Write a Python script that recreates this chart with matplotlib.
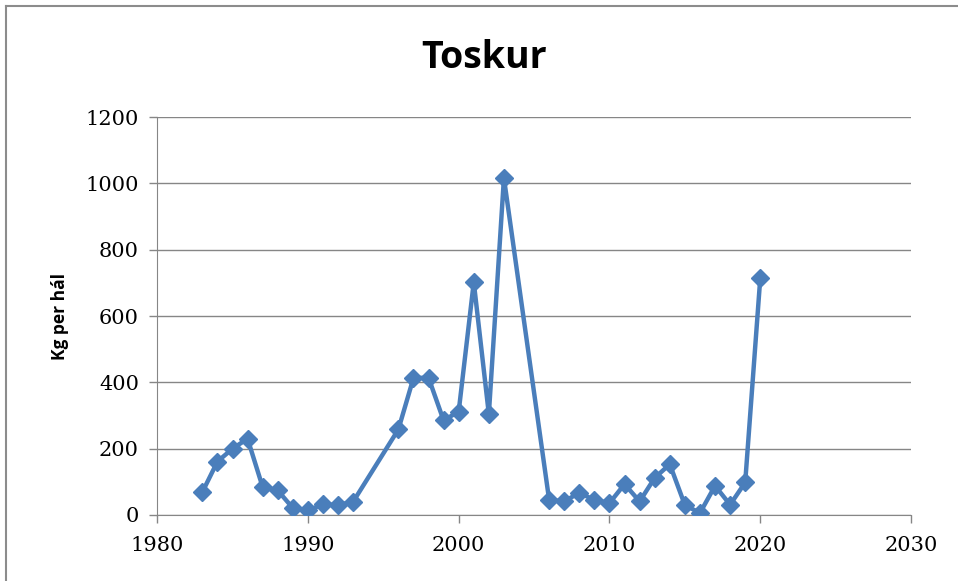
import matplotlib
matplotlib.use("Agg")
import matplotlib.pyplot as plt
from matplotlib.lines import Line2D

# Catch per haul, Toskur
years = [1983, 1984, 1985, 1986, 1987, 1988, 1989, 1990, 1991, 1992, 1993,
         1996, 1997, 1998, 1999, 2000, 2001, 2002, 2003,
         2006, 2007, 2008, 2009, 2010, 2011, 2012, 2013, 2014, 2015,
         2016, 2017, 2018, 2019, 2020]
kg_per_haul = [69, 161, 200, 230, 84, 74, 21, 14, 32, 30, 40,
               258, 413, 414, 285, 312, 702, 304, 1016,
               45, 41, 67, 45, 36, 93, 41, 112, 153, 30,
               6, 88, 31, 98, 714]

x_ticks = [1980, 1990, 2000, 2010, 2020, 2030]
y_ticks = [0, 200, 400, 600, 800, 1000, 1200]

fig = plt.figure(figsize=(9.58, 5.81), dpi=100)
ax = fig.add_axes([0.164, 0.1136, 0.787, 0.685])

ax.plot(years, kg_per_haul, color="#4a7ebb", lw=3.2, marker="D", ms=9.5,
        markeredgecolor="#4a7ebb", zorder=3)

ax.set_xlim(1980, 2030)
ax.set_ylim(0, 1200)
ax.set_xticks(x_ticks)
ax.set_yticks(y_ticks)
ax.set_xticklabels([str(t) for t in x_ticks], family="DejaVu Serif", fontsize=15)
ax.set_yticklabels([str(t) for t in y_ticks], family="DejaVu Serif", fontsize=15)
ax.tick_params(axis="both", length=6, color="#868686", width=1)
ax.tick_params(axis="x", pad=9)
ax.tick_params(axis="y", pad=7)

ax.grid(axis="y", color="#868686", lw=1)
ax.set_axisbelow(True)
for side in ["top", "right"]:
    ax.spines[side].set_visible(False)
for side in ["left", "bottom"]:
    ax.spines[side].set_color("#868686")

ax.set_ylabel("Kg per hál", fontsize=12.5, fontweight="bold", family="Open Sans", labelpad=12)
fig.text(0.505, 0.9, "Toskur", ha="center", va="center", fontsize=27,
         fontweight="bold", family="Open Sans")

# chart frame
fig.add_artist(Line2D([6 / 958, 1], [1 - 6 / 581, 1 - 6 / 581], color="#8c8c8c", lw=1.5))
fig.add_artist(Line2D([6 / 958, 6 / 958], [0, 1 - 6 / 581], color="#8c8c8c", lw=1.5))

fig.savefig("out.png", dpi=100)
